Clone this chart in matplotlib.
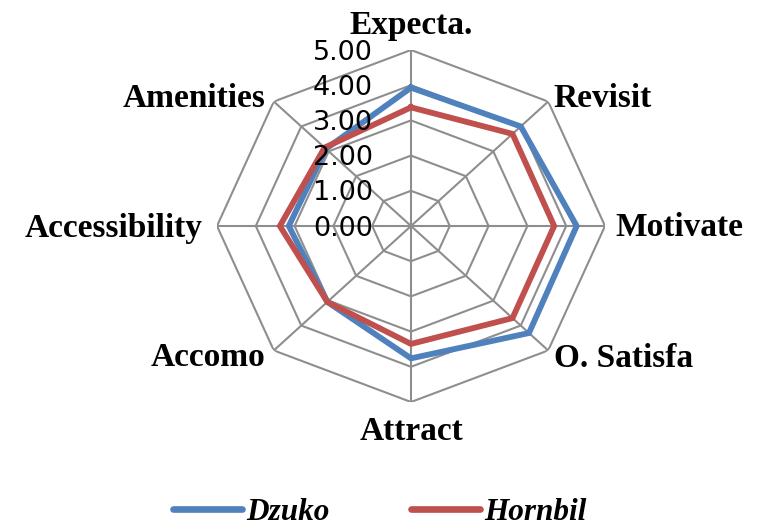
import numpy as np
import matplotlib
matplotlib.use("Agg")
import matplotlib.pyplot as plt

categories = ["Expecta.", "Revisit", "Motivate", "O. Satisfa", "Attract",
              "Accomo", "Accessibility", "Amenities"]
dzuko = [3.93, 4.00, 4.27, 4.30, 3.76, 3.05, 3.15, 3.10]
hornbil = [3.37, 3.70, 3.69, 3.70, 3.35, 3.05, 3.38, 3.15]
series_names = ["Dzuko", "Hornbil"]
tick_values = [0, 1, 2, 3, 4, 5]
tick_labels = ["0.00", "1.00", "2.00", "3.00", "4.00", "5.00"]

BLUE = "#4F81BD"
RED = "#C0504D"
GRID = "#8E8E8E"

fig = plt.figure(figsize=(7.57, 5.27), dpi=100)
ax = fig.add_axes([217 / 757, 1 - 402 / 527, 388 / 757, 352 / 527], projection="polar")
ax.set_aspect("auto")
ax.set_theta_zero_location("N")
ax.set_theta_direction(-1)
ax.set_ylim(0, 5)
ax.grid(False)
ax.set_xticks([])
ax.set_yticks([])
ax.spines["polar"].set_visible(False)
ax.patch.set_facecolor("none")

n = len(categories)
angles = np.linspace(0, 2 * np.pi, n, endpoint=False)
closed = np.append(angles, angles[0])

# grid rings and spokes
for r in tick_values[1:]:
    ax.plot(closed, [r] * (n + 1), color=GRID, lw=1.5, zorder=1)
for a in angles:
    ax.plot([a, a], [0, tick_values[-1]], color=GRID, lw=1.5, zorder=1)

# series
h1, = ax.plot(closed, dzuko + dzuko[:1], color=BLUE, lw=4.2, zorder=3,
              solid_joinstyle="miter", label=series_names[0])
h2, = ax.plot(closed, hornbil + hornbil[:1], color=RED, lw=4.2, zorder=4,
              solid_joinstyle="miter", label=series_names[1])

# radial tick labels
px = 0.72
for v, t in zip(tick_values, tick_labels):
    ax.annotate(t, xy=(0, v), xytext=(-38 * px, -2.5 * px), textcoords="offset points",
                ha="right", va="center", fontsize=19.5, family="DejaVu Sans",
                color="black", zorder=5)

# category labels: (dx px, dy px, ha, va)
placements = [
    (0, 16, "center", "baseline"),
    (5, 3, "left", "center"),
    (10, -2, "left", "center"),
    (6, -8, "left", "center"),
    (0, -14, "center", "top"),
    (-8, -7, "right", "center"),
    (-14, -2, "right", "center"),
    (-8, 3, "right", "center"),
]
for a, lab, (dx, dy, ha, va) in zip(angles, categories, placements):
    ax.annotate(lab, xy=(a, 5), xytext=(dx * px, dy * px), textcoords="offset points",
                ha=ha, va=va, fontsize=24, fontweight="bold",
                family="Liberation Serif", color="black", annotation_clip=False)

leg = fig.legend(handles=[h1, h2], loc="center", bbox_to_anchor=(380 / 757, 1 - 512 / 527),
                 ncol=2, frameon=False, handlelength=2.2, handletextpad=0.15,
                 columnspacing=2.6,
                 prop={"family": "Liberation Serif", "weight": "bold",
                       "style": "italic", "size": 22.5})
for line in leg.get_lines():
    line.set_linewidth(4.8)
    line.set_solid_capstyle("round")

fig.savefig("out.png", dpi=100)
